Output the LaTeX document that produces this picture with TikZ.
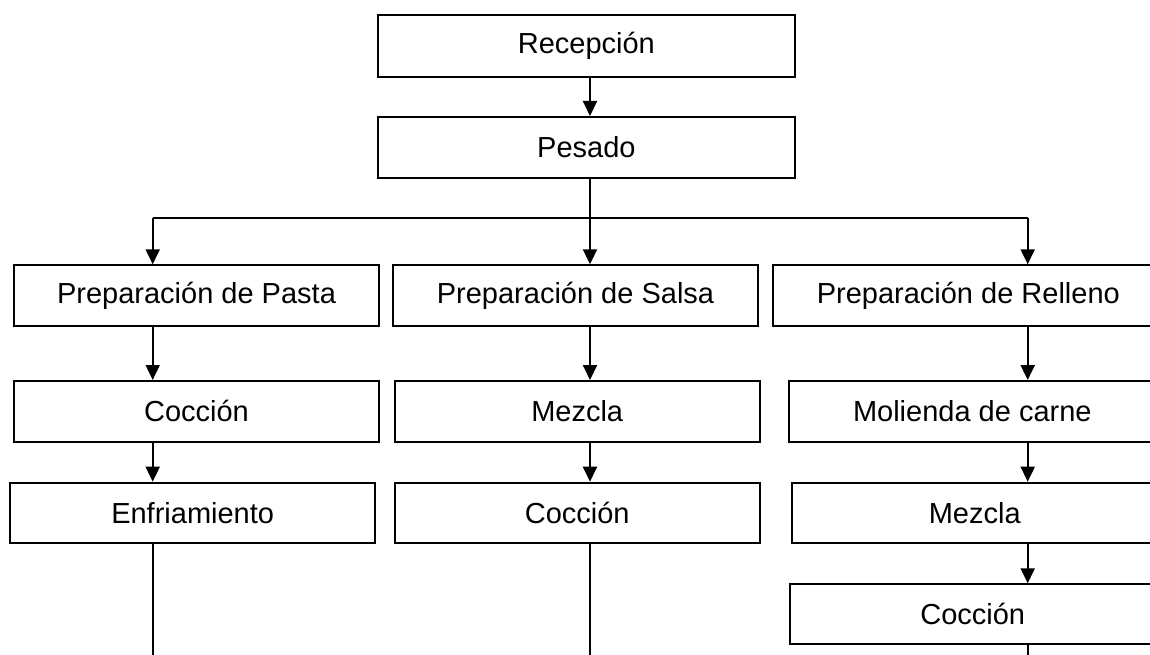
\documentclass[tikz,border=0pt]{standalone}
\usepackage{fontspec}
\setmainfont{Liberation Sans}
\usetikzlibrary{arrows.meta}
\begin{document}
\begin{tikzpicture}[x=1pt,y=-1pt,
  box/.style={draw, line width=2pt, inner sep=0pt, anchor=north west,
    font=\fontsize{29}{34}\selectfont},
  conn/.style={line width=2pt},
  arr/.style={conn, -{Triangle[length=15pt,width=14pt]}}]
\useasboundingbox (0,0) rectangle (1150,655);
\clip (0,0) rectangle (1150,655);

\node[box, minimum width=417.3pt, minimum height=61.7pt] (rec) at (376.7,14.3) {Recepción};
\node[box, minimum width=417.3pt, minimum height=60.7pt] (pes) at (376.7,116) {Pesado};

\node[box, minimum width=365.6pt, minimum height=61pt] (pasta) at (12.7,264.3) {Preparación de Pasta};
\node[box, minimum width=365.6pt, minimum height=61pt] (salsa) at (391.7,264.3) {Preparación de Salsa};
\node[box, minimum width=390pt, minimum height=61pt] (rell) at (772.3,264.3) {Preparación de Relleno};

\node[box, minimum width=365.6pt, minimum height=60.7pt] (coc1) at (12.7,380) {Cocción};
\node[box, minimum width=365pt, minimum height=60.7pt] (mez1) at (393.7,380) {Mezcla};
\node[box, minimum width=366pt, minimum height=60.7pt] (mol) at (788.3,380) {Molienda de carne};

\node[box, minimum width=364.7pt, minimum height=60.7pt] (enf) at (9.3,481.7) {Enfriamiento};
\node[box, minimum width=365pt, minimum height=60.7pt] (coc2) at (393.7,481.7) {Cocción};
\node[box, minimum width=366pt, minimum height=60.7pt] (mez2) at (790.7,481.7) {Mezcla};

\node[box, minimum width=366pt, minimum height=60pt] (coc3) at (788.7,583.3) {Cocción};

\coordinate (cL) at (152.7,217.7);
\coordinate (cM) at (590,217.7);
\coordinate (cR) at (1027.7,217.7);
\coordinate (bL) at (152.7,660);
\coordinate (bM) at (590,660);
\coordinate (bR) at (1027.7,660);

\draw[arr] (rec.south -| cM) -- (pes.north -| cM);
\draw[conn] (pes.south -| cM) -- (cM);
\draw[conn] (cL) -- (cR);
\draw[arr] (cL) -- (pasta.north -| cL);
\draw[arr] (cM) -- (salsa.north -| cM);
\draw[arr] (cR) -- (rell.north -| cR);

\draw[arr] (pasta.south -| cL) -- (coc1.north -| cL);
\draw[arr] (salsa.south -| cM) -- (mez1.north -| cM);
\draw[arr] (rell.south -| cR) -- (mol.north -| cR);

\draw[arr] (coc1.south -| cL) -- (enf.north -| cL);
\draw[arr] (mez1.south -| cM) -- (coc2.north -| cM);
\draw[arr] (mol.south -| cR) -- (mez2.north -| cR);

\draw[conn] (enf.south -| cL) -- (bL);
\draw[conn] (coc2.south -| cM) -- (bM);
\draw[arr] (mez2.south -| cR) -- (coc3.north -| cR);
\draw[conn] (coc3.south -| cR) -- (bR);
\end{tikzpicture}
\end{document}
